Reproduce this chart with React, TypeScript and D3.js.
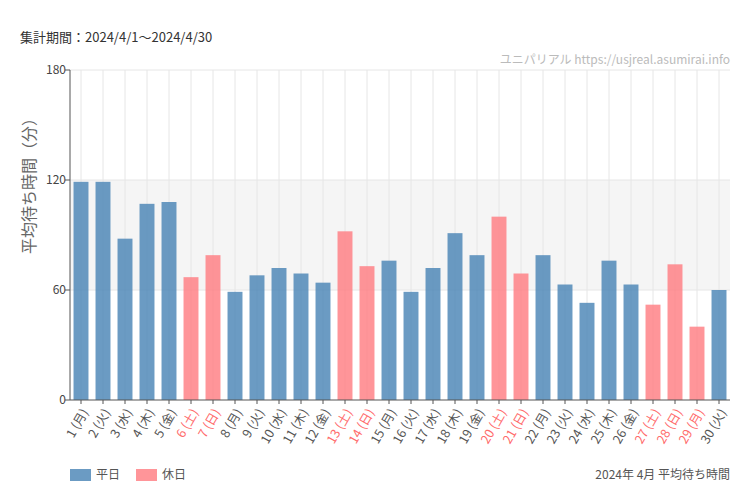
import React from "react";
import * as d3 from "d3";

const days = Array.from({ length: 30 }, (_, i) => i + 1);
const weekdays = ["月","火","水","木","金","土","日","月","火","水","木","金","土","日","月","火","水","木","金","土","日","月","火","水","木","金","土","日","月","火"];
const holidays = [6, 7, 13, 14, 20, 21, 27, 28, 29];
const values = [119, 119, 88, 107, 108, 67, 79, 59, 68, 72, 69, 64, 92, 73, 76, 59, 72, 91, 79, 100, 69, 79, 63, 53, 76, 63, 52, 74, 40, 60];
const yTicks = [0, 60, 120, 180];

const FONT = "'Noto Sans CJK JP', 'Noto Sans', sans-serif";

export default function App() {
  const W = 750, H = 500;
  const left = 70, right = 730, top = 70, bottom = 400;
  const x = d3.scaleBand<number>().domain(days).range([left, right]).paddingInner(0.32).paddingOuter(0.16);
  const y = d3.scaleLinear().domain([0, 180]).range([bottom, top]);
  const cx = (d: number) => (x(d) as number) + x.bandwidth() / 2;

  return (
    <svg width={W} height={H} style={{ position: "absolute", left: 0, top: 0, background: "#fff" }} fontFamily={FONT}>
      <text x={20} y={42} fontSize={13} fill="#333">集計期間：2024/4/1～2024/4/30</text>
      <text x={730} y={64} fontSize={12} fill="#bbb" textAnchor="end">ユニパリアル  https://usjreal.asumirai.info</text>

      <rect x={left} y={y(120)} width={right - left} height={y(60) - y(120)} fill="#f5f5f5" />
      {yTicks.filter(t => t > 0).map(t => (
        <line key={"h" + t} x1={left} x2={right} y1={y(t)} y2={y(t)} stroke="#e6e6e6" />
      ))}
      {days.map(d => (
        <line key={"v" + d} x1={cx(d)} x2={cx(d)} y1={top} y2={bottom} stroke="#e6e6e6" />
      ))}

      {days.map((d, i) => {
        const hol = holidays.includes(d);
        return (
          <rect key={"b" + d} x={x(d)} y={y(values[i])} width={x.bandwidth()} height={bottom - y(values[i])}
            fill={hol ? "#ff7a80" : "#4682b4"} fillOpacity={0.8} />
        );
      })}

      <line x1={left} x2={left} y1={top} y2={bottom} stroke="#555" />
      <line x1={left} x2={right} y1={bottom} y2={bottom} stroke="#555" />
      {yTicks.map(t => (
        <g key={"yt" + t}>
          <line x1={left - 5} x2={left} y1={y(t)} y2={y(t)} stroke="#555" />
          <text x={left - 4} y={y(t)} dy="0.35em" textAnchor="end" fontSize={12} fill="#444">{t}</text>
        </g>
      ))}
      {days.map((d, i) => {
        const hol = holidays.includes(d);
        return (
          <g key={"xt" + d}>
            <line x1={cx(d)} x2={cx(d)} y1={bottom} y2={bottom + 4} stroke="#555" />
            <text transform={`translate(${cx(d) + 4},${bottom + 10}) rotate(-60)`} textAnchor="end" dy="0.35em"
              fontSize={12.5} fill={hol ? "#ff6b6b" : "#555"}>{`${d} (${weekdays[i]})`}</text>
          </g>
        );
      })}

      <text transform={`translate(35,${(top + bottom) / 2 - 53}) rotate(-90)`} textAnchor="middle" fontSize={16} fill="#666">平均待ち時間（分）</text>

      <rect x={70} y={469} width={21} height={12} fill="#4682b4" fillOpacity={0.8} />
      <text x={96} y={479} fontSize={12} fill="#555">平日</text>
      <rect x={136} y={469} width={21} height={12} fill="#ff7a80" fillOpacity={0.8} />
      <text x={162} y={479} fontSize={12} fill="#555">休日</text>
      <text x={730} y={479} fontSize={12} fill="#555" textAnchor="end">2024年 4月 平均待ち時間</text>
    </svg>
  );
}
